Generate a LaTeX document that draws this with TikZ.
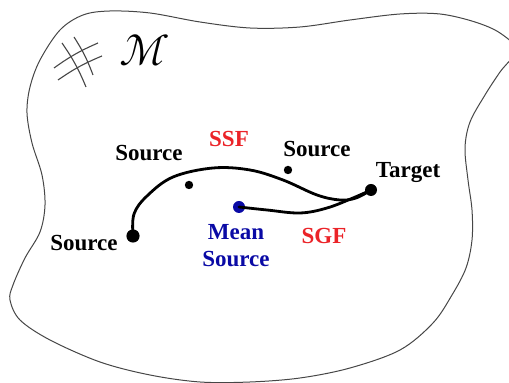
\documentclass[tikz,border=0pt]{standalone}
\usepackage{fontspec}
\setmainfont{Liberation Serif}
\usepackage{unicode-math}
\setmathfont{Latin Modern Math}
\definecolor{lblred}{RGB}{235,35,40}
\definecolor{lblblue}{RGB}{10,10,165}
\definecolor{outl}{RGB}{70,70,70}
\begin{document}
\begin{tikzpicture}[x=0.5pt,y=-0.5pt,
  lbl/.style={inner sep=0pt,font=\fontsize{11.5}{13.5}\selectfont\bfseries},
  dotbig/.style={circle,fill=black,inner sep=0pt,minimum size=6pt},
  dotsmall/.style={circle,fill=black,inner sep=0pt,minimum size=4.2pt},
  curve/.style={line width=1.4pt,line cap=round},
  hashline/.style={outl,line width=0.55pt}]
\path[use as bounding box] (0,0) rectangle (509,383);
% manifold outline
\draw[outl,line width=0.5pt] plot[smooth cycle,tension=0.55] coordinates {
 (110,11) (150,13) (200,22) (250,28) (300,27) (350,20) (400,14) (440,14)
 (475,22) (500,33) (516,50) (500,72) (485,95) (470,122) (465,148) (468,180)
 (472,210) (472,240) (466,268) (452,295) (433,323) (400,350) (350,368)
 (300,378) (250,382) (200,382) (150,375) (100,362) (50,340) (20,320)
 (10,300) (13,285) (25,258) (40,232) (45,205) (42,175) (32,143) (27,113)
 (30,87) (40,60) (60,30) (83,15)};
% hash symbol
\draw[hashline] (62,43) to[bend left=6] (86,87);
\draw[hashline] (74,37) to[bend left=6] (93,75);
\draw[hashline] (54,68) to[bend left=6] (98,43);
\draw[hashline] (58,80) to[bend left=6] (102,56);
\node[inner sep=0pt,font=\fontsize{22}{24}\selectfont] (M) at (145,50) {$\mathcal{M}$};
% points
\node[dotbig,minimum width=6.6pt] (s1) at (133,236) {};
\node[dotsmall] (s2) at (189,185) {};
\node[dotsmall] (s3) at (288,170) {};
\node[dotbig] (t) at (371,190) {};
\node[dotbig,fill=lblblue] (m) at (239,207) {};
% curves
\draw[curve] plot[smooth,tension=0.6] coordinates {(s1.center) (134,214) (147,196) (173,177) (213,168) (250,170) (283,180) (317,195) (340,200) (356,198) (t.center)};
\draw[curve] plot[smooth,tension=0.6] coordinates {(m.center) (267,210) (300,213) (327,208) (353,198) (t.center)};
% labels
\node[lbl] (l1) at (84,243) {Source};
\node[lbl] (l2) at (149,153) {Source};
\node[lbl] (l3) at (317,149) {Source};
\node[lbl] (lt) at (408,173) {Target};
\node[lbl,text=lblred] (ssf) at (229,139) {SSF};
\node[lbl,text=lblred] (sgf) at (324,236) {SGF};
\node[lbl,text=lblblue,align=center] (lm) at (236,246) {Mean\\Source};
\end{tikzpicture}
\end{document}
